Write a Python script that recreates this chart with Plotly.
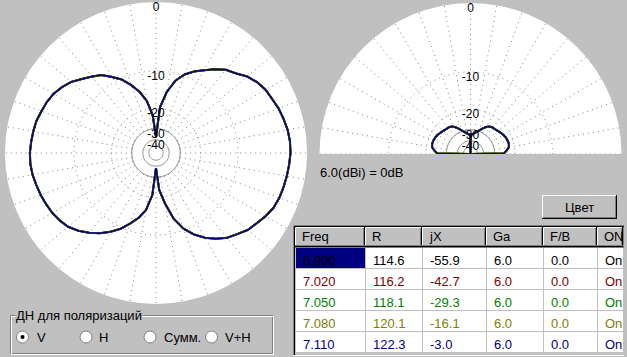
import numpy as np
import plotly.graph_objects as go

W, H = 627, 357
FONT = "Liberation Sans, Arial, sans-serif"
BG = "#c0c0c0"
GRID = "#808080"

# ---------------- data ----------------
freqs = ["6.990", "7.020", "7.050", "7.080", "7.110"]
res_R = ["114.6", "116.2", "118.1", "120.1", "122.3"]
res_jX = ["-55.9", "-42.7", "-29.3", "-16.1", "-3.0"]
gain_Ga = ["6.0", "6.0", "6.0", "6.0", "6.0"]
ratio_FB = ["0.0", "0.0", "0.0", "0.0", "0.0"]
state_ON = ["On", "On", "On", "On", "On"]
table_headers = ["Freq", "R", "jX", "Ga", "F/B", "ON"]
col_widths = [70, 57, 64, 57, 54, 26]
series_colors = ["#000000", "#800000", "#008000", "#808000", "#000080"]
series_widths = [2.1, 1.95, 1.8, 1.65, 1.5]

# azimuth pattern (dB relative to 6.0 dBi), every 5 degrees
az_deg = list(range(0, 361, 5))
az_db = [-36.8, -19.5, -14.6, -11.5, -9.7, -8.5, -7.5, -6.4, -5.4, -4.8,
         -3.9, -3.3, -2.9, -2.7, -2.4, -2.2, -2.0, -1.9, -1.9, -2.0,
         -2.1, -2.2, -2.3, -2.5, -2.9, -3.4, -3.8, -4.5, -5.1, -6.0,
         -7.1, -8.5, -10.3, -13.1, -17.8, -23.0, -37.8, -20.9, -15.7, -13.3,
         -11.5, -9.7, -8.3, -7.1, -6.1, -5.2, -4.5, -4.1, -3.8, -3.6,
         -3.4, -3.25, -3.05, -2.95, -2.95, -3.05, -3.15, -3.25, -3.5, -3.7,
         -4.0, -4.5, -5.1, -6.0, -6.8, -7.55, -8.9, -10.2, -12.1, -14.3,
         -17.2, -22.6, -36.8]

# elevation pattern (dB), -99 = null (below scale)
el_deg = [0, 1, 5, 10, 15, 20, 25, 30, 35, 40, 45, 50, 55, 60, 65, 70, 75, 80, 85, 89,
          90, 91, 95, 100, 105, 110, 115, 120, 125, 130, 135, 140, 145, 150, 155,
          160, 165, 170, 175, 179, 180]
el_db = [-99, -24.8, -23.5, -22.2, -21.9, -22.0, -22.2, -22.6, -23.1, -23.6, -24.0,
         -24.2, -24.7, -25.9, -27.6, -29.5, -31.1, -32.3, -33.3, -34.0,
         -99, -34.0, -33.3, -32.3, -31.1, -29.5, -27.6, -25.9, -24.7, -24.2,
         -24.0, -23.6, -23.1, -22.6, -22.2, -22.0, -21.9, -22.2, -23.5, -24.8, -99]

ring_db = [0, -10, -20, -30, -40]
ring_text = ["0", "-10", "-20", "-30", "-40"]
dotted_rings = [-10, -20]
solid_rings = [-30, -40, -50]
spoke_inner_db = -30
gain_note = "6.0(dBi) = 0dB"

radio_labels = ["V", "H", "Сумм.", "V+H"]
group_title = "ДН для поляризаций"
button_text = "Цвет"

# MMANA-like logarithmic radial scale (about 0.885 per 2 dB)
K = 0.061


def rscale(db):
    return np.exp(K * np.asarray(db, dtype=float))


def px(x):
    return x / W


def py(y):
    return 1 - y / H


fig = go.Figure()


def add_grid(sub, a0, a1):
    ring_theta = np.arange(a0, a1 + 1, 2)
    for d in solid_rings:
        fig.add_trace(go.Scatterpolar(
            r=np.full(len(ring_theta), rscale(d)), theta=ring_theta, mode="lines",
            line=dict(color=GRID, width=1), subplot=sub, hoverinfo="skip", showlegend=False))
    rr, tt = [], []
    r_in = float(rscale(spoke_inner_db))
    stop = a1 + 1 if a1 - a0 < 360 else a1
    for a in range(a0, stop, 10):
        rr += [r_in, 1.0, None]
        tt += [a, a, None]
    fig.add_trace(go.Scatterpolar(
        r=rr, theta=tt, mode="lines", line=dict(color=GRID, width=1, dash="1px,4px"),
        subplot=sub, hoverinfo="skip", showlegend=False))


add_grid("polar", 0, 360)
add_grid("polar2", 0, 180)

for i, c in enumerate(series_colors):
    fig.add_trace(go.Scatterpolar(
        r=rscale(az_db), theta=az_deg, mode="lines",
        line=dict(color=c, width=series_widths[i]), subplot="polar",
        hoverinfo="skip", showlegend=False))
    fig.add_trace(go.Scatterpolar(
        r=rscale(el_db), theta=el_deg, mode="lines",
        line=dict(color=c, width=series_widths[i]), subplot="polar2",
        hoverinfo="skip", showlegend=False))

for sub, th in (("polar", 0), ("polar2", 90)):
    fig.add_trace(go.Scatterpolar(
        r=rscale(ring_db), theta=[th] * len(ring_db), mode="text", text=ring_text,
        textposition="bottom center", textfont=dict(family=FONT, size=12, color="black"),
        subplot=sub, hoverinfo="skip", showlegend=False))

radial_common = dict(range=[0, 1], tickvals=list(rscale(dotted_rings)), showticklabels=False,
                     ticks="", showline=False, gridcolor=GRID, griddash="1px,4px", gridwidth=1)
angular_common = dict(showgrid=False, showticklabels=False, ticks="", showline=False)

fig.update_layout(
    width=W, height=H, margin=dict(l=0, r=0, t=0, b=0, pad=0),
    paper_bgcolor=BG, plot_bgcolor=BG,
    font=dict(family=FONT, size=13, color="black"),
    polar=dict(domain=dict(x=[px(5), px(307)], y=[py(304), py(2)]), bgcolor="white",
               radialaxis=radial_common,
               angularaxis=dict(angular_common, rotation=90, direction="clockwise")),
    polar2=dict(domain=dict(x=[px(319.5), px(621.5)], y=[py(154), py(3)]), bgcolor="white",
                sector=[0, 180],
                radialaxis=radial_common,
                angularaxis=dict(angular_common, rotation=0, direction="counterclockwise")),
)

# ---------------- table ----------------
n = len(freqs)
TX0, TX1, TY0, HH = 295, 623, 226, 21
cell_fill = [["#000080"] + ["white"] * (n - 1)] + [["white"] * n for _ in range(5)]
font_cols = [series_colors for _ in range(6)]
fig.add_trace(go.Table(
    domain=dict(x=[px(TX0), px(TX1)], y=[py(356), py(TY0)]),
    columnwidth=col_widths,
    header=dict(values=[""] * len(table_headers), fill_color=BG, line=dict(color=GRID, width=1),
                align="left", height=HH, font=dict(family=FONT, size=13, color="black")),
    cells=dict(values=[freqs, res_R, res_jX, gain_Ga, ratio_FB, state_ON],
               fill_color=cell_fill, line=dict(color=BG, width=1), align="left", height=21,
               font=dict(family=FONT, size=13, color=font_cols)),
))

shapes = []
ann = []


def line(x0, y0, x1, y1, color, w=1):
    shapes.append(dict(type="line", xref="paper", yref="paper", x0=px(x0), y0=py(y0),
                       x1=px(x1), y1=py(y1), line=dict(color=color, width=w), layer="above"))


def text(x, y, s, anchor="left", size=13):
    ann.append(dict(xref="paper", yref="paper", x=px(x), y=py(y), text=s, showarrow=False,
                    xanchor=anchor, yanchor="middle", font=dict(family=FONT, size=size, color="black")))


# raised header buttons with their captions
scale_w = (TX1 - TX0) / sum(col_widths)
edges = [TX0 + scale_w * sum(col_widths[:k]) for k in range(len(col_widths) + 1)]
hy0, hy1 = TY0 + 1, TY0 + HH
for k in range(len(col_widths)):
    x0, x1 = edges[k], edges[k + 1]
    line(x0 + 0.5, hy0 + 0.5, x1 - 1, hy0 + 0.5, "white")
    line(x0 + 0.5, hy0 + 0.5, x0 + 0.5, hy1 - 1, "white")
    line(x1 - 1.5, hy0 + 1, x1 - 1.5, hy1 - 1, GRID)
    line(x1 - 0.5, hy0, x1 - 0.5, hy1, "black")
    text(x0 + 5, (hy0 + hy1) / 2 - 0.5, table_headers[k])
line(TX0, hy1 - 1.5, TX1, hy1 - 1.5, GRID)
line(TX0, hy1 - 0.5, TX1, hy1 - 0.5, "black")

# table frame (sunken)
line(293.5, 225.5, 624, 225.5, GRID)
line(293.5, 225.5, 293.5, 355, GRID)
line(294.5, 226.5, 624, 226.5, "black")
line(294.5, 226.5, 294.5, 355, "black")
line(293.5, 355.5, 624, 355.5, "white")

# button
bx0, by0, bx1, by1 = 542, 195, 617, 219
shapes.append(dict(type="rect", xref="paper", yref="paper", x0=px(bx0), y0=py(by1), x1=px(bx1), y1=py(by0),
                   fillcolor=BG, line=dict(width=0), layer="above"))
line(bx0 + 0.5, by0 + 0.5, bx1 - 1, by0 + 0.5, "white")
line(bx0 + 0.5, by0 + 0.5, bx0 + 0.5, by1 - 1, "white")
line(bx0, by1 - 0.5, bx1, by1 - 0.5, "black")
line(bx1 - 0.5, by0, bx1 - 0.5, by1, "black")
line(bx0 + 1, by1 - 1.5, bx1 - 1, by1 - 1.5, GRID)
line(bx1 - 1.5, by0 + 1, bx1 - 1.5, by1 - 1, GRID)
text((bx0 + bx1) / 2, (by0 + by1) / 2, button_text, anchor="center")

# group box (etched)
gx0, gy0, gx1, gy1 = 10, 315, 273, 354
for off, col in ((0, GRID), (1, "white")):
    shapes.append(dict(type="rect", xref="paper", yref="paper", x0=px(gx0 + 0.5 + off), y0=py(gy1 - 0.5 + off),
                       x1=px(gx1 - 0.5 + off), y1=py(gy0 + 0.5 + off), line=dict(color=col, width=1), layer="above"))
ann.append(dict(xref="paper", yref="paper", x=px(15), y=py(315), text=group_title, showarrow=False,
                xanchor="left", yanchor="middle", bgcolor=BG, borderpad=0,
                font=dict(family=FONT, size=13, color="black")))

radio_cx = [22.5, 86, 150, 211.5]
radio_tx = [35, 97, 162, 223]
for i, lab in enumerate(radio_labels):
    cx, cy = radio_cx[i], 337
    shapes.append(dict(type="circle", xref="paper", yref="paper", x0=px(cx - 6), y0=py(cy + 6),
                       x1=px(cx + 6), y1=py(cy - 6), fillcolor="white", line=dict(color=GRID, width=1),
                       layer="above"))
    if i == 0:
        shapes.append(dict(type="circle", xref="paper", yref="paper", x0=px(cx - 2), y0=py(cy + 2),
                           x1=px(cx + 2), y1=py(cy - 2), fillcolor="black", line=dict(color="black", width=0),
                           layer="above"))
    text(radio_tx[i], cy, lab)

text(318, 172, gain_note)

fig.update_layout(shapes=shapes, annotations=ann)
fig.write_html("out.html", config={"displayModeBar": False},
               post_script="document.body.style.margin='0';document.body.style.overflow='hidden';")
